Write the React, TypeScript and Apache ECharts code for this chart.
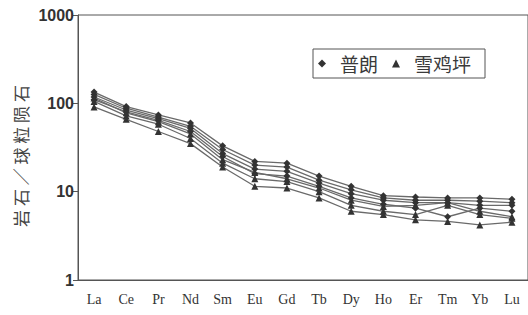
import React, { useEffect, useRef } from "react";
import * as echarts from "echarts";

const elements = ["La", "Ce", "Pr", "Nd", "Sm", "Eu", "Gd", "Tb", "Dy", "Ho", "Er", "Tm", "Yb", "Lu"];

// 普朗 samples (diamond markers)
const puLang1 = [134, 92, 74, 60, 33, 22, 21, 15, 11.5, 9, 8.7, 8.5, 8.5, 8.2];
const puLang2 = [126, 88, 70, 55, 30, 20, 19, 13.5, 10.5, 8.5, 8, 8, 7.8, 7.5];
const puLang3 = [118, 84, 67, 52, 27, 18, 17, 12.5, 9.5, 8, 7.5, 7.5, 7, 7];
const puLang4 = [110, 80, 64, 48, 25, 16, 15, 11.5, 8.5, 7.2, 6.5, 5.2, 6.5, 6];

// 雪鸡坪 samples (triangle markers)
const xueJiPing1 = [115, 78, 62, 45, 23, 16.5, 14, 11, 8, 6.8, 7, 7.5, 6, 5.2];
const xueJiPing2 = [105, 72, 58, 40, 21, 14, 13, 10, 7, 6, 5.5, 7, 5.5, 5];
const xueJiPing3 = [91, 66, 48, 35, 19, 11.5, 11, 8.5, 6, 5.5, 4.8, 4.6, 4.2, 4.5];

const puLangSeries = [puLang1, puLang2, puLang3, puLang4];
const xueJiPingSeries = [xueJiPing1, xueJiPing2, xueJiPing3];

export default function App() {
  const ref = useRef<HTMLDivElement>(null);
  useEffect(() => {
    if (!ref.current) return;
    const chart = echarts.init(ref.current, null, { renderer: "svg" });
    const mk = (name: string, data: number[], symbol: string) => ({
      name,
      type: "line",
      data,
      symbol,
      symbolSize: 7,
      lineStyle: { color: "#6a6a6a", width: 1.3 },
      itemStyle: { color: "#333" },
      z: 2,
    });
    const series = [
      ...puLangSeries.map((d) => mk("普朗", d, "diamond")),
      ...xueJiPingSeries.map((d) => mk("雪鸡坪", d, "triangle")),
    ];
    chart.setOption({
      animation: false,
      backgroundColor: "#fff",
      grid: {
        left: 78,
        top: 15,
        width: 455,
        height: 265,
        show: true,
        borderColor: "#555",
        borderWidth: 1,
      },
      legend: {
        left: 313,
        top: 49,
        orient: "horizontal",
        borderColor: "#555",
        borderWidth: 1,
        padding: [5, 14, 5, 5],
        itemWidth: 8,
        itemHeight: 8,
        itemGap: 14,
        data: [
          { name: "普朗", icon: "diamond" },
          { name: "雪鸡坪", icon: "triangle" },
        ],
        textStyle: {
          fontFamily: "Noto Sans CJK SC",
          fontSize: 19,
          color: "#3a3a3a",
          padding: [0, 0, 0, 9],
        },
      },
      xAxis: {
        type: "category",
        data: elements,
        boundaryGap: true,
        axisLine: { lineStyle: { color: "#555", width: 1 } },
        axisTick: { alignWithLabel: true, length: 4, lineStyle: { color: "#555" } },
        axisLabel: {
          margin: 12,
          fontFamily: "Liberation Serif",
          fontSize: 14,
          color: "#333",
        },
        splitLine: { show: false },
      },
      yAxis: {
        type: "log",
        logBase: 10,
        min: 1,
        max: 1000,
        axisLine: { show: true, lineStyle: { color: "#555", width: 1 } },
        axisTick: { show: true, length: 5, lineStyle: { color: "#555" } },
        minorTick: { show: false },
        splitLine: { show: false },
        axisLabel: {
          margin: 4,
          fontFamily: "Liberation Sans",
          fontWeight: "bold",
          fontSize: 16,
          color: "#333",
          formatter: (v: number) => String(Math.round(v)),
        },
      },
      graphic: [
        {
          type: "text",
          x: 20,
          y: 156,
          rotation: Math.PI / 2,
          style: {
            text: "岩 石 ／ 球 粒 陨 石",
            fontFamily: "Noto Sans CJK SC",
            fontSize: 17,
            fill: "#444",
            align: "center",
            verticalAlign: "middle",
          },
        },
      ],
      series,
    });
    return () => chart.dispose();
  }, []);
  return (
    <div
      ref={ref}
      style={{ position: "fixed", left: 0, top: 0, width: 528, height: 315 }}
    />
  );
}
